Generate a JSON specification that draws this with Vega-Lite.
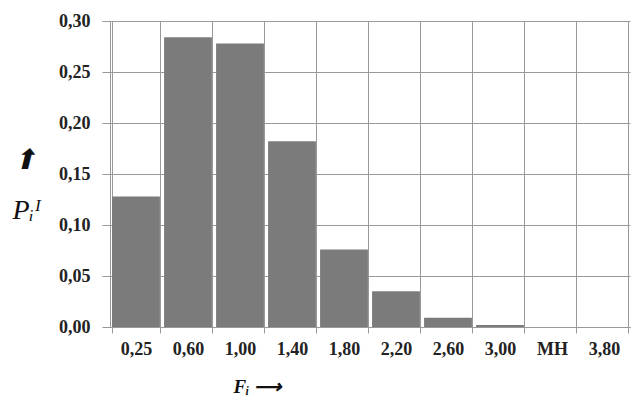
{
  "$schema": "https://vega.github.io/schema/vega-lite/v6.json",
  "width": 520,
  "height": 306,
  "autosize": {"type": "none"},
  "padding": {"left": 110, "top": 21, "right": 1, "bottom": 71},
  "background": "white",
  "config": {
    "view": {"stroke": null},
    "font": "Liberation Serif",
    "axis": {"labelFont": "Liberation Serif", "titleFont": "Liberation Serif"}
  },
  "data": {
    "values": [
      {"F": "0,25", "P": 0.128},
      {"F": "0,60", "P": 0.284},
      {"F": "1,00", "P": 0.278},
      {"F": "1,40", "P": 0.182},
      {"F": "1,80", "P": 0.076},
      {"F": "2,20", "P": 0.035},
      {"F": "2,60", "P": 0.009},
      {"F": "3,00", "P": 0.002},
      {"F": "MH", "P": 0.0},
      {"F": "3,80", "P": 0.0}
    ]
  },
  "mark": {"type": "bar", "color": "#7b7b7b"},
  "encoding": {
    "x": {
      "field": "F",
      "type": "nominal",
      "sort": null,
      "scale": {"paddingInner": 0.08, "paddingOuter": 0.04},
      "axis": {
        "title": "Fᵢ ⟶",
        "titleFontStyle": "italic",
        "titleFontWeight": "bold",
        "titleFontSize": 19,
        "titleColor": "#111",
        "titleAnchor": "start",
        "titleX": 123,
        "titleY": 50,
        "labelAngle": 0,
        "labelFontSize": 18,
        "labelFontWeight": "bold",
        "labelColor": "#222",
        "labelPadding": 7,
        "tickBand": "extent",
        "grid": true,
        "gridColor": "#999999",
        "gridWidth": 1,
        "gridOpacity": 1,
        "domain": true,
        "domainColor": "#999999",
        "tickColor": "#999999",
        "tickSize": 6
      }
    },
    "y": {
      "field": "P",
      "type": "quantitative",
      "scale": {"domain": [0, 0.3], "nice": false},
      "axis": {
        "values": [0, 0.05, 0.1, 0.15, 0.2, 0.25, 0.3],
        "labelExpr": "replace(format(datum.value, '.2f'), '.', ',')",
        "labelFontSize": 18,
        "labelFontWeight": "bold",
        "labelColor": "#222",
        "labelPadding": 12,
        "title": ["⬆", "Pᵢᴵ"],
        "titleAngle": 0,
        "titleFontStyle": "italic",
        "titleFontWeight": "normal",
        "titleFontSize": 28,
        "titleLineHeight": 50,
        "titleColor": "#111",
        "titleX": -98,
        "titleY": 125,
        "titleAlign": "left",
        "titleBaseline": "top",
        "grid": true,
        "gridColor": "#999999",
        "gridOpacity": 1,
        "domainColor": "#999999",
        "tickColor": "#999999",
        "tickSize": 8
      }
    }
  }
}
